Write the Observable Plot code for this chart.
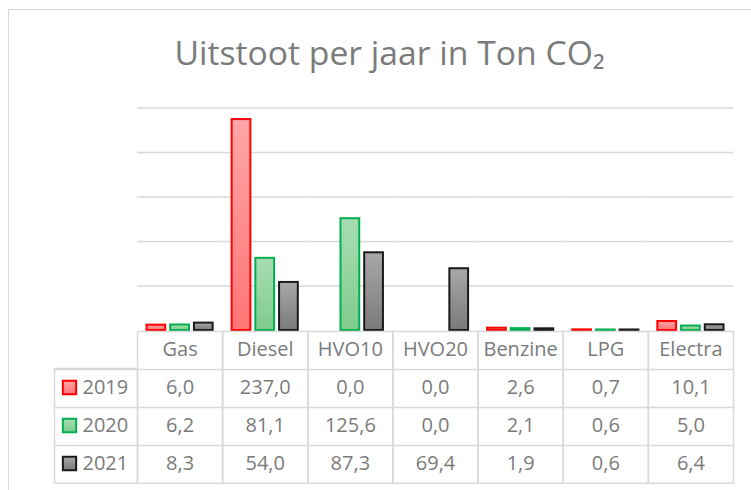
<!DOCTYPE html>
<html>
<head>
<meta charset="utf-8">
<script src="https://cdn.jsdelivr.net/npm/d3@7"></script>
<script src="https://cdn.jsdelivr.net/npm/@observablehq/plot@0.6"></script>
<style>
  html, body { margin: 0; padding: 0; background: #fff; }
  #wrap { position: relative; width: 751px; height: 490px; overflow: hidden; }
  #border { position: absolute; left: 8px; top: 9px; width: 900px; height: 900px; border: 1.5px solid #d9d9d9; box-sizing: border-box; }
  #chart { position: absolute; left: 0; top: 0; }
</style>
</head>
<body>
<div id="wrap"><div id="border"></div><div id="chart"></div></div>
<script>
const title = "Uitstoot per jaar in Ton CO₂";
const categories = ["Gas", "Diesel", "HVO10", "HVO20", "Benzine", "LPG", "Electra"];
const years = ["2019", "2020", "2021"];
const values2019 = [6.0, 237.0, 0.0, 0.0, 2.6, 0.7, 10.1];
const values2020 = [6.2, 81.1, 125.6, 0.0, 2.1, 0.6, 5.0];
const values2021 = [8.3, 54.0, 87.3, 69.4, 1.9, 0.6, 6.4];
const gridTicks = [50, 100, 150, 200, 250];

const seriesValues = {"2019": values2019, "2020": values2020, "2021": values2021};
const data = years.flatMap(year => categories.map((category, i) => ({category, year, value: seriesValues[year][i]})));

const strokeColors = {"2019": "#ff0000", "2020": "#00b050", "2021": "#1a1a1a"};
const gradStops = {
  "2019": ["#ffa6a6", "#ff7575"],
  "2020": ["#a8ddb2", "#7fcc8e"],
  "2021": ["#a8a8a8", "#7a7a7a"]
};
const fillUrl = y => `url(#grad${y})`;
const fmt = v => d3.format(".1f")(v).replace(".", ",");

const textColor = "#7b7b7b";
const lineColor = "#d9d9d9";
const rowStep = 38;
const colWidth = 596 / categories.length;

const marks = [
  // gridlines (repeated in each category facet)
  Plot.ruleY(gridTicks, {y: d => d, stroke: lineColor, strokeWidth: 1.3}),
  // bars
  Plot.barY(data.filter(d => d.value > 0), {
    fx: "category", x: "year", y: "value",
    fill: d => fillUrl(d.year), stroke: d => strokeColors[d.year], strokeWidth: 2
  }),
  // table column cells
  Plot.frame({stroke: lineColor, strokeWidth: 1.5, insetTop: 223.5, insetBottom: -152.7}),
  // row label column box
  Plot.frame({stroke: lineColor, strokeWidth: 1.5, facet: "super", insetLeft: -83, insetRight: 596, insetTop: 222.5 + rowStep, insetBottom: -152.7}),
  // row lines (anchored in first facet, spanning whole table)
  ...[1, 2, 3].map(i => Plot.ruleY([0], {
    fx: () => categories[0], stroke: lineColor, strokeWidth: 1.5,
    insetLeft: -83, insetRight: -(596 - colWidth), dy: 1 + rowStep * i
  })),
  // header text
  Plot.text(categories, {fx: d => d, text: d => d, frameAnchor: "bottom", lineAnchor: "middle", dy: 19.5, fontSize: 20, fill: textColor}),
  // values
  ...years.map((yr, i) => Plot.text(data.filter(d => d.year === yr), {
    fx: "category", text: d => fmt(d.value), frameAnchor: "bottom", lineAnchor: "middle", dy: 57.5 + rowStep * i, fontSize: 20, fill: textColor
  })),
  // row labels and legend keys
  ...years.map((yr, i) => Plot.text([yr], {
    text: d => d, frameAnchor: "bottom-left", lineAnchor: "middle", textAnchor: "start", dx: -55, dy: 57.5 + rowStep * i, fontSize: 20, fill: textColor, facet: "super"
  })),
  ...years.map((yr, i) => Plot.dot([yr], {
    frameAnchor: "bottom-left", dx: -68, dy: 57 + rowStep * i, symbol: "square", r: 7.5,
    fill: d => fillUrl(d), stroke: d => strokeColors[d], strokeWidth: 2, facet: "super"
  })),
  // title
  Plot.text([title], {text: d => d, frameAnchor: "top", lineAnchor: "middle", dx: -46, dy: -54, fontSize: 33.7, fill: textColor, facet: "super"})
];

const plot = Plot.plot({
  width: 751,
  height: 490,
  marginTop: 107.5,
  marginBottom: 160,
  marginLeft: 137,
  marginRight: 18,
  style: {fontFamily: "'Open Sans', sans-serif", background: "transparent", overflow: "visible"},
  fx: {domain: categories, padding: 0, round: false, axis: null, label: null},
  x: {domain: years, paddingInner: 0.21, paddingOuter: 0.4, round: false, axis: null},
  y: {domain: [0, 250], axis: null},
  marks
});

const svg = d3.select(plot);
const defs = svg.insert("defs", ":first-child");
for (const yr of years) {
  const g = defs.append("linearGradient").attr("id", `grad${yr}`).attr("x1", 0).attr("y1", 0).attr("x2", 0).attr("y2", 1);
  g.append("stop").attr("offset", "0%").attr("stop-color", gradStops[yr][0]);
  g.append("stop").attr("offset", "100%").attr("stop-color", gradStops[yr][1]);
}
document.getElementById("chart").appendChild(plot);
</script>
</body>
</html>
